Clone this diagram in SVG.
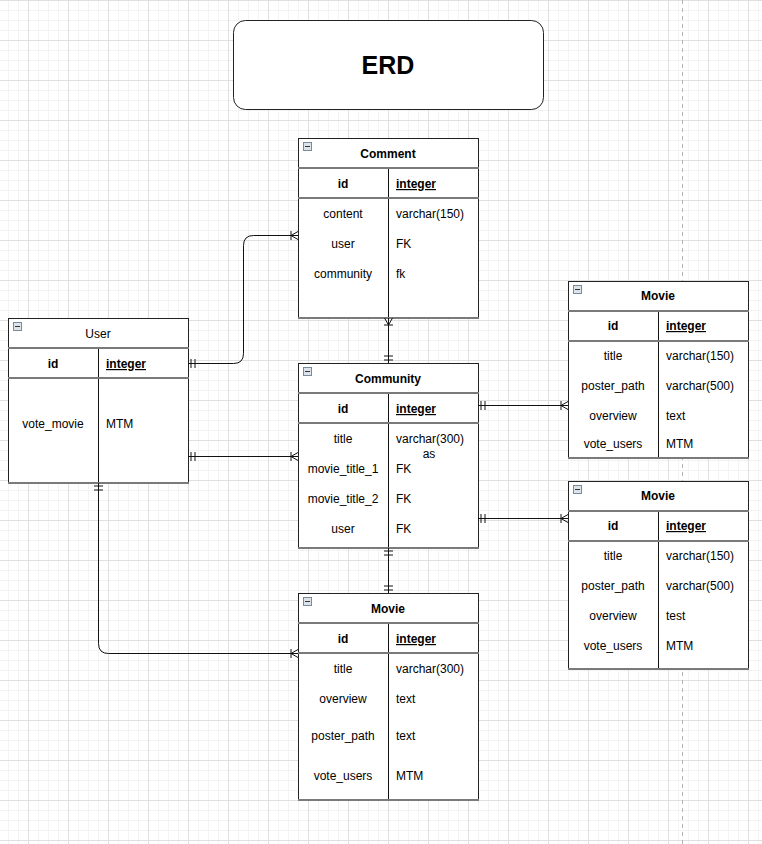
<svg xmlns="http://www.w3.org/2000/svg" width="762" height="844" viewBox="0 0 762 844">
<defs>
<pattern id="minor" x="8" y="0" width="10" height="10" patternUnits="userSpaceOnUse">
<path d="M0.5,0 V10 M0,0.5 H10" stroke="#f3f3f3" stroke-width="1" fill="none"/>
</pattern>
<pattern id="major" x="28" y="0" width="40" height="40" patternUnits="userSpaceOnUse">
<path d="M0.5,0 V40 M0,0.5 H40" stroke="#e0e0e0" stroke-width="1" fill="none"/>
</pattern>
<marker id="mandOne" viewBox="-12 -6 14 12" refX="0" refY="0" markerWidth="14" markerHeight="12" markerUnits="userSpaceOnUse" orient="auto-start-reverse" overflow="visible">
<path d="M-3,-4.5 V4.5 M-7,-4.5 V4.5" stroke="#111" stroke-width="1" fill="none"/>
</marker>
<marker id="oneMany" viewBox="-12 -6 14 12" refX="0" refY="0" markerWidth="14" markerHeight="12" markerUnits="userSpaceOnUse" orient="auto-start-reverse" overflow="visible">
<path d="M-7,-4.5 V4.5 M0,-4 L-7,0 L0,4" stroke="#111" stroke-width="1" fill="none"/>
</marker>
<g id="minus">
<rect x="0.5" y="0.5" width="8" height="8" fill="#dde3ea" stroke="#7a8a99" stroke-width="1"/>
<path d="M2,4.5 H7" stroke="#333" stroke-width="1"/>
</g>
</defs>
<style>
text{font-family:"Liberation Sans",Arial,sans-serif;font-size:12px;fill:#000}
.t{font-weight:bold;text-anchor:middle}
.c{text-anchor:middle}
.pk{font-weight:bold;text-decoration:underline}
.pkn{font-weight:bold;text-anchor:middle}
.box{fill:#fff;stroke:#222;stroke-width:1}
.sep{stroke:#7a7a7a;stroke-width:2;fill:none}
.div{stroke:#111;stroke-width:1;fill:none}
.conn{stroke:#111;stroke-width:1;fill:none}
</style>
<rect width="762" height="844" fill="#fff"/>
<rect width="762" height="844" fill="url(#minor)"/>
<rect width="762" height="844" fill="url(#major)"/>
<line x1="682.5" y1="0" x2="682.5" y2="844" stroke="#b5b5b5" stroke-width="1" stroke-dasharray="4,4"/>

<g id="title">
<rect x="233.5" y="20.5" width="310" height="89" rx="12" ry="12" class="box"/>
<text x="388" y="74" class="t" style="font-size:25px">ERD</text>
</g>

<g id="comment">
<rect x="298.5" y="138.5" width="180" height="180" class="box"/>
<line x1="388.5" y1="168" x2="388.5" y2="318" class="div"/>
<line x1="298" y1="168" x2="479" y2="168" class="sep"/>
<line x1="298" y1="198" x2="479" y2="198" class="sep"/>
<line x1="298" y1="318" x2="479" y2="318" class="sep"/>
<use href="#minus" x="303" y="142"/>
<text x="388" y="158" class="t">Comment</text>
<text x="343" y="188" class="pkn">id</text>
<text x="396" y="188" class="pk">integer</text>
<text x="343" y="218" class="c">content</text>
<text x="396" y="218">varchar(150)</text>
<text x="343" y="248" class="c">user</text>
<text x="396" y="248">FK</text>
<text x="343" y="278" class="c">community</text>
<text x="396" y="278">fk</text>
</g>

<g id="user">
<rect x="8.5" y="318.5" width="180" height="165" class="box"/>
<line x1="98.5" y1="348" x2="98.5" y2="483" class="div"/>
<line x1="8" y1="348" x2="189" y2="348" class="sep"/>
<line x1="8" y1="378" x2="189" y2="378" class="sep"/>
<line x1="8" y1="483" x2="189" y2="483" class="sep"/>
<use href="#minus" x="13" y="322"/>
<text x="98" y="338" class="c">User</text>
<text x="53" y="368" class="pkn">id</text>
<text x="106" y="368" class="pk">integer</text>
<text x="53" y="428" class="c">vote_movie</text>
<text x="106" y="428">MTM</text>
</g>

<g id="community">
<rect x="298.5" y="363.5" width="180" height="185" class="box"/>
<line x1="388.5" y1="393" x2="388.5" y2="548" class="div"/>
<line x1="298" y1="393" x2="479" y2="393" class="sep"/>
<line x1="298" y1="423" x2="479" y2="423" class="sep"/>
<line x1="298" y1="548" x2="479" y2="548" class="sep"/>
<use href="#minus" x="303" y="367"/>
<text x="388" y="383" class="t">Community</text>
<text x="343" y="413" class="pkn">id</text>
<text x="396" y="413" class="pk">integer</text>
<text x="343" y="443" class="c">title</text>
<text x="396" y="443">varchar(300)</text>
<text x="429" y="458" class="c">as</text>
<text x="343" y="473" class="c">movie_title_1</text>
<text x="396" y="473">FK</text>
<text x="343" y="503" class="c">movie_title_2</text>
<text x="396" y="503">FK</text>
<text x="343" y="533" class="c">user</text>
<text x="396" y="533">FK</text>
</g>

<g id="movie1">
<rect x="568.5" y="281.5" width="180" height="177" class="box"/>
<line x1="658.5" y1="311" x2="658.5" y2="458" class="div"/>
<line x1="568" y1="311" x2="749" y2="311" class="sep"/>
<line x1="568" y1="341" x2="749" y2="341" class="sep"/>
<line x1="568" y1="458" x2="749" y2="458" class="sep"/>
<use href="#minus" x="573" y="285"/>
<text x="658" y="300" class="t">Movie</text>
<text x="613" y="330" class="pkn">id</text>
<text x="666" y="330" class="pk">integer</text>
<text x="613" y="360" class="c">title</text>
<text x="666" y="360">varchar(150)</text>
<text x="613" y="390" class="c">poster_path</text>
<text x="666" y="390">varchar(500)</text>
<text x="613" y="420" class="c">overview</text>
<text x="666" y="420">text</text>
<text x="613" y="448" class="c">vote_users</text>
<text x="666" y="448">MTM</text>
</g>

<g id="movie2">
<rect x="568.5" y="481.5" width="180" height="188" class="box"/>
<line x1="658.5" y1="511" x2="658.5" y2="669" class="div"/>
<line x1="568" y1="511" x2="749" y2="511" class="sep"/>
<line x1="568" y1="541" x2="749" y2="541" class="sep"/>
<line x1="568" y1="669" x2="749" y2="669" class="sep"/>
<use href="#minus" x="573" y="485"/>
<text x="658" y="500" class="t">Movie</text>
<text x="613" y="530" class="pkn">id</text>
<text x="666" y="530" class="pk">integer</text>
<text x="613" y="560" class="c">title</text>
<text x="666" y="560">varchar(150)</text>
<text x="613" y="590" class="c">poster_path</text>
<text x="666" y="590">varchar(500)</text>
<text x="613" y="620" class="c">overview</text>
<text x="666" y="620">test</text>
<text x="613" y="650" class="c">vote_users</text>
<text x="666" y="650">MTM</text>
</g>

<g id="movie3">
<rect x="298.5" y="593.5" width="180" height="207" class="box"/>
<line x1="388.5" y1="623" x2="388.5" y2="800" class="div"/>
<line x1="298" y1="623" x2="479" y2="623" class="sep"/>
<line x1="298" y1="653" x2="479" y2="653" class="sep"/>
<line x1="298" y1="800" x2="479" y2="800" class="sep"/>
<use href="#minus" x="303" y="597"/>
<text x="388" y="613" class="t">Movie</text>
<text x="343" y="643" class="pkn">id</text>
<text x="396" y="643" class="pk">integer</text>
<text x="343" y="673" class="c">title</text>
<text x="396" y="673">varchar(300)</text>
<text x="343" y="703" class="c">overview</text>
<text x="396" y="703">text</text>
<text x="343" y="740" class="c">poster_path</text>
<text x="396" y="740">text</text>
<text x="343" y="780" class="c">vote_users</text>
<text x="396" y="780">MTM</text>
</g>

<g id="connectors">
<path class="conn" d="M188,363.5 H233.5 Q243.5,363.5 243.5,353.5 V245.5 Q243.5,235.5 253.5,235.5 H298" marker-start="url(#mandOne)" marker-end="url(#oneMany)"/>
<path class="conn" d="M188,456.5 H298" marker-start="url(#mandOne)" marker-end="url(#oneMany)"/>
<path class="conn" d="M478,405.5 H568" marker-start="url(#mandOne)" marker-end="url(#oneMany)"/>
<path class="conn" d="M478,518.5 H568" marker-start="url(#mandOne)" marker-end="url(#oneMany)"/>
<path class="conn" d="M388.5,318 V363" marker-start="url(#oneMany)" marker-end="url(#mandOne)"/>
<path class="conn" d="M388.5,548 V593" marker-start="url(#mandOne)" marker-end="url(#mandOne)"/>
<path class="conn" d="M98.5,483 V643.5 Q98.5,653.5 108.5,653.5 H298" marker-start="url(#mandOne)" marker-end="url(#oneMany)"/>
</g>
</svg>
